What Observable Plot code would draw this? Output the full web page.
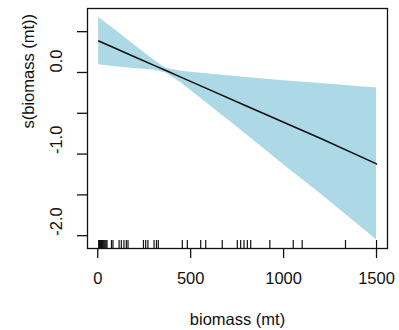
<!DOCTYPE html>
<html>
<head>
<meta charset="utf-8">
<script src="https://cdn.jsdelivr.net/npm/d3@7"></script>
<script src="https://cdn.jsdelivr.net/npm/@observablehq/plot@0.6"></script>
<style>
  html, body { margin: 0; padding: 0; background: #fff; }
  #chart svg { display: block; }
</style>
</head>
<body>
<div id="chart"></div>
<script>
// Smooth term s(biomass) estimate with confidence band
const biomass = [5, 100, 200, 300, 370, 450, 600, 800, 1000, 1200, 1500];
const fitVals = [0.385, 0.29, 0.19, 0.09, 0.02, -0.06, -0.21, -0.41, -0.61, -0.81, -1.12];
const lowerVals = [0.095, 0.07, 0.05, 0.03, -0.01, -0.13, -0.40, -0.76, -1.13, -1.49, -2.05];
const upperVals = [0.675, 0.51, 0.33, 0.155, 0.05, 0.015, -0.02, -0.06, -0.10, -0.135, -0.19];

// Rug of observed biomass values
const rugVals = [5, 10, 15, 20, 25, 30, 35, 40, 45, 50, 74, 82, 115, 127, 141, 154, 163,
  246, 258, 270, 303, 316, 326, 455, 482, 554, 581, 670, 751, 769, 787, 805, 823,
  926, 1052, 1100, 1333, 1500];

// Ticks and labels
const xTicks = [0, 500, 1000, 1500];
const xTickLabels = ["0", "500", "1000", "1500"];
const yTicks = [-2, -1.5, -1, -0.5, 0, 0.5];
const yLabelVals = [-2, -1, 0];
const yTickLabels = ["-2.0", "-1.0", "0.0"];
const xTitle = "biomass (mt)";
const yTitle = "s(biomass (mt))";

const band = biomass.map((b, i) => ({b, fit: fitVals[i], lo: lowerVals[i], hi: upperVals[i]}));
const xLab = xTicks.map((v, i) => ({v, t: xTickLabels[i]}));
const yLab = yLabelVals.map((v, i) => ({v, t: yTickLabels[i]}));

const W = 399, H = 330;
const mL = 87, mR = 12, mT = 8, mB = 82;
const innerH = H - mT - mB;

const chart = Plot.plot({
  width: W,
  height: H,
  marginLeft: mL,
  marginRight: mR,
  marginTop: mT,
  marginBottom: mB,
  style: {fontFamily: "'Liberation Sans', Arial, sans-serif", fontSize: "16.5px", color: "#111", background: "#fff"},
  x: {domain: [-55, 1559]},
  y: {domain: [-2.157, 0.784]},
  marks: [
    Plot.areaY(band, {x: "b", y1: "lo", y2: "hi", fill: "#add8e6"}),
    Plot.line(band, {x: "b", y: "fit", stroke: "#111", strokeWidth: 1.6}),
    Plot.ruleX(rugVals, {x: d => d, stroke: "#111", strokeWidth: 1.2, insetTop: innerH - 8}),
    Plot.frame({stroke: "#111", strokeWidth: 1.3}),
    Plot.axisX({ticks: xTicks, tickSize: 10, tickFormat: () => "", label: null, strokeWidth: 1.3}),
    Plot.axisY({ticks: yTicks, tickSize: 10, tickFormat: () => "", label: null, strokeWidth: 1.3}),
    Plot.text(xLab, {x: "v", text: "t", frameAnchor: "bottom", dy: 30, lineAnchor: "middle", fill: "#111"}),
    Plot.text(yLab, {y: "v", text: "t", frameAnchor: "left", dx: -31, rotate: -90, lineAnchor: "middle", fill: "#111"}),
    Plot.text([xTitle], {text: d => d, frameAnchor: "bottom", dy: 71, lineAnchor: "middle", fill: "#111"}),
    Plot.text([yTitle], {text: d => d, frameAnchor: "left", dx: -59, rotate: -90, lineAnchor: "middle", fill: "#111"})
  ]
});
document.getElementById("chart").appendChild(chart);
</script>
</body>
</html>
